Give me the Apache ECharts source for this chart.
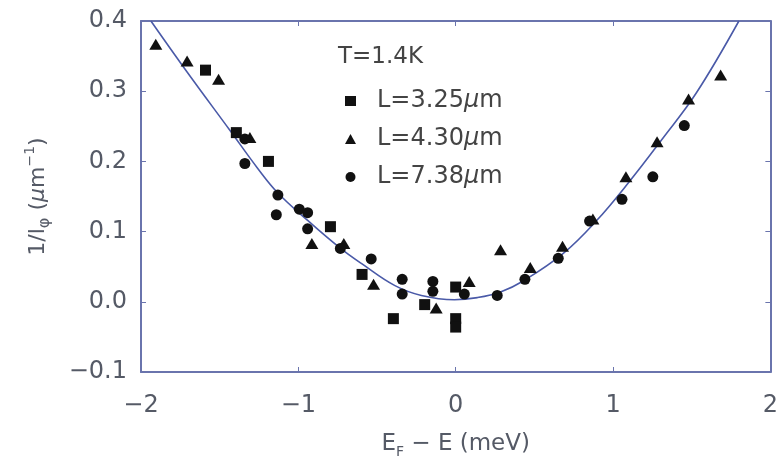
<!DOCTYPE html>
<html>
<head>
<meta charset="utf-8">
<script src="https://cdn.jsdelivr.net/npm/echarts@6/dist/echarts.min.js"></script>
<style>html,body{margin:0;padding:0;background:#fff;}#c{width:781px;height:464px;}</style>
</head>
<body>
<div id="c"></div>
<script>
// ---- data ----
const seriesNames = ['L=3.25μm', 'L=4.30μm', 'L=7.38μm'];
const squares = [
  [-1.59, 0.330], [-1.394, 0.241], [-1.19, 0.200], [-0.796, 0.107], [-0.595, 0.039],
  [-0.396, -0.024], [-0.197, -0.004], [0.0, 0.021], [0.0, -0.024], [0.0, -0.036]
];
const triangles = [
  [-1.906, 0.367], [-1.707, 0.343], [-1.507, 0.317], [-1.308, 0.234], [-0.914, 0.083],
  [-0.711, 0.083], [-0.522, 0.025], [-0.124, -0.009], [0.086, 0.029], [0.285, 0.074],
  [0.474, 0.049], [0.679, 0.079], [0.872, 0.118], [1.082, 0.178], [1.28, 0.228],
  [1.48, 0.289], [1.684, 0.323]
];
const circles = [
  [-1.34, 0.197], [-1.34, 0.232], [-1.13, 0.152], [-1.14, 0.124], [-0.994, 0.132],
  [-0.941, 0.127], [-0.941, 0.104], [-0.733, 0.076], [-0.537, 0.061], [-0.34, 0.032],
  [-0.34, 0.011], [-0.145, 0.029], [-0.145, 0.015], [0.055, 0.011], [0.264, 0.009],
  [0.44, 0.032], [0.652, 0.062], [0.851, 0.115], [1.057, 0.146], [1.253, 0.178],
  [1.453, 0.251]
];
const curveX = [-1.937, -1.706, -1.434, -1.258, -1.13, -0.941, -0.742, -0.595, -0.386, -0.218, -0.008, 0.138, 0.285, 0.432, 0.684, 0.893, 1.103, 1.313, 1.528, 1.80];
const curveY = [0.400, 0.327, 0.244, 0.190, 0.155, 0.116, 0.078, 0.054, 0.023, 0.009, 0.003, 0.006, 0.014, 0.030, 0.069, 0.115, 0.171, 0.232, 0.297, 0.400];
const xTicks = [-2, -1, 0, 1, 2];
const yTicks = [-0.1, 0.0, 0.1, 0.2, 0.3, 0.4];
const tempLabel = 'T=1.4K';

// ---- styling ----
const FONT = 'DejaVu Sans';
const frameColor = '#6a74ad';
const labelColor = '#555a66';
const curve = curveX.map((x, i) => [x, curveY[i]]);
const minus = s => String(s).replace('-', '\u2212');

const axisCommon = {
  type: 'value',
  splitLine: { show: false },
  axisLine: { show: true, onZero: false, lineStyle: { color: frameColor, width: 2 } },
  axisTick: { show: true, inside: true, length: 5, lineStyle: { color: frameColor, width: 1 } }
};

const chart = echarts.init(document.getElementById('c'));
chart.setOption({
  animation: false,
  backgroundColor: '#fff',
  title: {
    text: tempLabel, left: 333, top: 41,
    textStyle: { fontFamily: FONT, fontSize: 23, fontWeight: 'normal', color: '#444' }
  },
  legend: {
    orient: 'vertical', left: 340, top: 84,
    itemWidth: 11, itemHeight: 10, itemGap: 14,
    data: [
      { name: seriesNames[0], icon: 'rect', itemStyle: { color: '#111' } },
      { name: seriesNames[1], icon: 'triangle', itemStyle: { color: '#111' } },
      { name: seriesNames[2], icon: 'circle', itemStyle: { color: '#111' } }
    ],
    formatter: n => { const p = n.split('μ'); return '{sp|}{n|' + p[0] + '}{i|μ}{n|' + p[1] + '}'; },
    textStyle: {
      fontFamily: FONT, fontSize: 24, color: '#444', lineHeight: 24,
      rich: {
        sp: { width: 16 },
        n: { fontFamily: FONT, fontSize: 24, color: '#444' },
        i: { fontFamily: FONT, fontSize: 24, color: '#444', fontStyle: 'italic' }
      }
    }
  },
  grid: { left: 141, right: 5, top: 21, bottom: 86, containLabel: false },
  xAxis: [
    Object.assign({}, axisCommon, {
      position: 'bottom', min: xTicks[0], max: xTicks[xTicks.length - 1], interval: 1,
      axisLabel: { margin: 22, fontFamily: FONT, fontSize: 24, color: labelColor, formatter: v => minus(v) },
      name: '{t|E}{s|F}{t| \u2212 E (meV)}', nameLocation: 'middle', nameGap: 57,
      nameTextStyle: {
        rich: {
          t: { fontFamily: FONT, fontSize: 23, color: labelColor },
          s: { fontFamily: FONT, fontSize: 14, color: labelColor, verticalAlign: 'bottom', lineHeight: 30 }
        }
      }
    }),
    Object.assign({}, axisCommon, {
      position: 'top', min: xTicks[0], max: xTicks[xTicks.length - 1], interval: 1,
      axisLabel: { show: false }
    })
  ],
  yAxis: [
    Object.assign({}, axisCommon, {
      position: 'left', min: yTicks[0], max: yTicks[yTicks.length - 1], interval: 0.1,
      axisLabel: { margin: 14, fontFamily: FONT, fontSize: 24, color: labelColor, formatter: v => minus(v.toFixed(1)) },
      name: '{t|1/l}{s|φ}{t| (}{i|μ}{t|m}{p|\u22121}{t|)}', nameLocation: 'middle', nameGap: 88, nameRotate: 90,
      nameTextStyle: {
        rich: {
          t: { fontFamily: FONT, fontSize: 22, color: labelColor },
          i: { fontFamily: FONT, fontSize: 22, color: labelColor, fontStyle: 'italic' },
          s: { fontFamily: FONT, fontSize: 16, color: labelColor, verticalAlign: 'bottom', lineHeight: 30 },
          p: { fontFamily: FONT, fontSize: 14, color: labelColor, verticalAlign: 'top', lineHeight: 30 }
        }
      }
    }),
    Object.assign({}, axisCommon, {
      position: 'right', min: yTicks[0], max: yTicks[yTicks.length - 1], interval: 0.1,
      axisLabel: { show: false }
    })
  ],
  series: [
    {
      type: 'line', data: curve, smooth: 0.4, symbol: 'none', clip: true, z: 1,
      lineStyle: { color: '#4a5aa8', width: 1.6 }
    },
    {
      name: seriesNames[0], type: 'scatter', data: squares, symbol: 'rect', symbolSize: 11,
      itemStyle: { color: '#111', opacity: 1 }, z: 3
    },
    {
      name: seriesNames[1], type: 'scatter', data: triangles, symbol: 'triangle', symbolSize: [13, 11],
      itemStyle: { color: '#111', opacity: 1 }, z: 3
    },
    {
      name: seriesNames[2], type: 'scatter', data: circles, symbol: 'circle', symbolSize: 11,
      itemStyle: { color: '#111', opacity: 1 }, z: 3
    }
  ]
});
</script>
</body>
</html>
